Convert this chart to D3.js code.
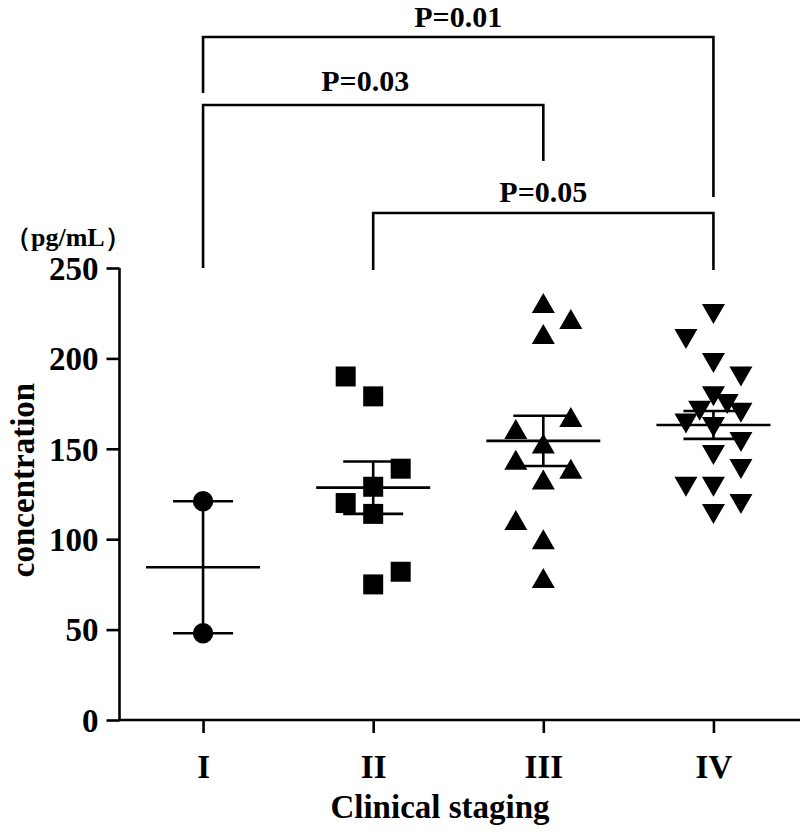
<!DOCTYPE html>
<html>
<head>
<meta charset="utf-8">
<script src="https://cdn.jsdelivr.net/npm/d3@7"></script>
<style>
  html, body { margin: 0; padding: 0; background: #fff; }
  svg { display: block; }
  text { font-family: "Liberation Serif", "Times New Roman", serif; font-weight: bold; fill: #000; }
</style>
</head>
<body>
<svg id="chart" width="800" height="832"></svg>
<script>
// ---- data ----
const categories = ["I", "II", "III", "IV"];
const stageI   = [121, 48];
const stageII  = [190, 179, 139, 129, 120, 114, 82, 75];
const stageIII = [230.6, 221.8, 213.5, 167.6, 161, 153, 144, 139, 133, 110.6, 100, 78.5];
const stageIV  = [224.6, 210.7, 197.5, 190, 179, 174.8, 171, 170, 164, 162, 153.8, 146.6, 138.8, 129, 129, 119.5, 114];
// column-scatter lanes, in lane units
const lanesI   = [0, 0];
const lanesII  = [-1, 0, 1, 0, -1, 0, 1, 0];
const lanesIII = [0, 1, 0, 1, -1, 0, -1, 1, 0, -1, 0, 0];
const lanesIV  = [0, -1, 0, 1, 0, 0.5, -0.5, 1, -1, 0, 1, 0, 1, -1, 0, 1, 0];
const yTicks = [0, 50, 100, 150, 200, 250];
const comparisons = [["I", "IV"], ["I", "III"], ["II", "IV"]];
const pLabels = ["P=0.01", "P=0.03", "P=0.05"];
const yTitle = "concentration";
const unitLabel = "（pg/mL）";
const xTitle = "Clinical staging";

const groups = [
  { name: "I",   values: stageI,   lanes: lanesI,   shape: "circle" },
  { name: "II",  values: stageII,  lanes: lanesII,  shape: "square" },
  { name: "III", values: stageIII, lanes: lanesIII, shape: "triUp" },
  { name: "IV",  values: stageIV,  lanes: lanesIV,  shape: "triDown" }
];

// ---- layout ----
const svg = d3.select("#chart");
const axisLeftX = 119.5, axisBottomY = 720, axisTopY = 268, axisRight = 800;
const laneW = 27.5;
const lw = 2.6;

const x = d3.scalePoint().domain(categories).range([axisLeftX - 1.5, axisRight - 1.5]).padding(0.5);
const y = d3.scaleLinear().domain([0, 250]).range([axisBottomY, axisTopY]);

// axes
const yAxis = d3.axisLeft(y).tickValues(yTicks).tickSize(13).tickPadding(8).tickSizeOuter(0);
const gy = svg.append("g").attr("transform", `translate(${axisLeftX},0)`).call(yAxis);
gy.select(".domain").attr("stroke-width", lw).attr("d", `M0,${axisTopY}V${axisBottomY}`);
gy.selectAll(".tick line").attr("stroke-width", lw);
gy.selectAll(".tick text").style("font-size", "33px").style("font-family", "Liberation Serif").style("font-weight", "bold").attr("dy", "0.34em");

const xAxis = d3.axisBottom(x).tickSize(13).tickPadding(22).tickSizeOuter(0);
const gx = svg.append("g").attr("transform", `translate(0,${axisBottomY})`).call(xAxis);
gx.select(".domain").attr("stroke-width", lw).attr("d", `M${axisLeftX - 1.3},0H${axisRight}`);
gx.selectAll(".tick line").attr("stroke-width", lw);
gx.selectAll(".tick text").style("font-size", "33px").style("font-family", "Liberation Serif").style("font-weight", "bold");

// titles
svg.append("text").attr("x", 440).attr("y", 818).attr("text-anchor", "middle")
  .style("font-size", "33px").text(xTitle);
svg.append("text").attr("transform", "translate(34,480) rotate(-90)").attr("text-anchor", "middle")
  .style("font-size", "33px").text(yTitle);
svg.append("text").attr("x", 5).attr("y", 246).attr("text-anchor", "start")
  .style("font-size", "26px").text(unitLabel);

// markers
function shapePath(shape) {
  if (shape === "square") return "M-10,-10H10V10H-10Z";
  if (shape === "triUp") return "M0,-10L11.5,10H-11.5Z";
  if (shape === "triDown") return "M0,10L11.5,-10H-11.5Z";
  return d3.symbol(d3.symbolCircle, Math.PI * 10.2 * 10.2)();
}

groups.forEach(g => {
  const cx = x(g.name);
  const gg = svg.append("g");
  gg.selectAll("path.pt").data(g.values).join("path")
    .attr("class", "pt")
    .attr("d", shapePath(g.shape))
    .attr("fill", "#000")
    .attr("transform", (v, i) => `translate(${cx + g.lanes[i] * laneW},${y(v)})`);

  const mean = d3.mean(g.values);
  const sem = d3.deviation(g.values) / Math.sqrt(g.values.length);
  const line = (x1, y1, x2, y2) => gg.append("line")
    .attr("x1", x1).attr("y1", y1).attr("x2", x2).attr("y2", y2)
    .attr("stroke", "#000").attr("stroke-width", lw);
  line(cx, y(mean - sem), cx, y(mean + sem));
  line(cx - 57, y(mean), cx + 57, y(mean));
  line(cx - 30, y(mean + sem), cx + 30, y(mean + sem));
  line(cx - 30, y(mean - sem), cx + 30, y(mean - sem));
});

// significance brackets
const bracketY = [37, 105, 213];
const bracketLeftEnd = [93, 268, 270];
const bracketRightEnd = [197, 161, 270];
const labelY = [27, 91, 202];
comparisons.forEach((c, i) => {
  const x1 = x(c[0]), x2 = x(c[1]);
  svg.append("path")
    .attr("d", `M${x1},${bracketLeftEnd[i]}V${bracketY[i]}H${x2}V${bracketRightEnd[i]}`)
    .attr("fill", "none").attr("stroke", "#000").attr("stroke-width", lw);
  svg.append("text").attr("x", (x1 + x2) / 2 - (i === 1 ? 8 : 0)).attr("y", labelY[i])
    .attr("text-anchor", "middle").style("font-size", "30px").text(pLabels[i]);
});
</script>
</body>
</html>
